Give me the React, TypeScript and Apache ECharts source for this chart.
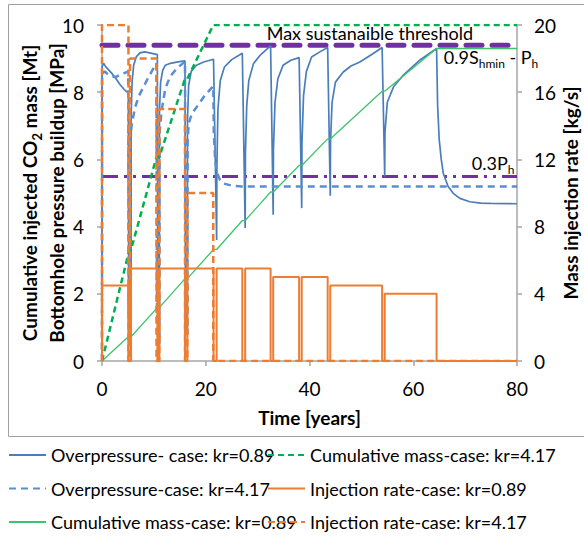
import React, { useEffect, useRef } from "react";
import * as echarts from "echarts";

const FONT = "Lato, sans-serif";

// Time axis (years) and value axes
const timeRange = [0, 80];
const xTickStep = 20;
const leftRange = [0, 10];
const leftTickStep = 2;
const rightRange = [0, 20];
const rightTickStep = 4;

// Reference thresholds (MPa)
const maxSustainableThreshold = 9.4;
const lowThreshold03Ph = 5.49;

// Overpressure, kr=0.89 [time, MPa]
const overpressureKr089: [number, number][] = [
  [0, 0], [0.02, 8.75], [0.3, 8.86], [0.7, 8.76], [1.2, 8.68], [1.9, 8.56], [2.8, 8.38], [3.5, 8.22], [4.3, 8.08], [5.07, 7.97],
  [5.15, 1.5], [5.6, 0.3],
  [5.63, 7.4], [5.8, 8.3], [6.1, 8.8], [6.6, 9.05], [7.3, 9.17], [8.2, 9.2], [9.2, 9.17], [10.67, 9.12],
  [10.75, 1.5], [11.05, 0.5],
  [11.08, 7.47], [11.3, 8.3], [11.7, 8.65], [12.2, 8.8], [13.2, 8.86], [14.6, 8.9], [16, 8.93],
  [16.08, 2], [16.45, 0.8],
  [16.48, 7.17], [16.7, 8.2], [17.2, 8.62], [18.2, 8.8], [19.6, 8.9], [21.5, 8.98],
  [22.1, 3.6],
  [22.15, 5.8], [22.35, 7.5], [22.8, 8.35], [23.6, 8.75], [25, 8.97], [27.05, 9.16],
  [27.6, 3.96],
  [27.65, 6.2], [27.9, 7.6], [28.3, 8.35], [29.2, 8.85], [30.6, 9.12], [32.5, 9.38],
  [33, 4.35],
  [33.05, 6.3], [33.35, 7.7], [33.9, 8.4], [34.9, 8.8], [36.4, 8.95], [38, 9.03],
  [38.5, 4.55],
  [38.55, 6.5], [38.85, 7.9], [39.4, 8.62], [40.4, 9.05], [42, 9.2], [43.5, 9.33],
  [44, 4.92],
  [44.05, 6.5], [44.35, 7.7], [45, 8.3], [46.5, 8.6], [48, 8.78], [49.7, 8.9], [52, 9.12], [54, 9.33],
  [54.5, 5.49],
  [54.55, 6.8], [55, 7.7], [56.2, 8.16], [58.1, 8.51], [61.3, 8.96], [64.5, 9.3],
  [64.7, 7.6], [65, 6.6], [65.4, 6.0], [65.8, 5.58], [66.7, 5.2], [67.7, 4.99], [69, 4.84], [70.9, 4.74], [73, 4.7], [75, 4.69], [80, 4.68],
];

// Overpressure, kr=4.17 [time, MPa]
const overpressureKr417: [number, number][] = [
  [0, 0], [0.02, 8.55], [0.5, 8.62], [1, 8.55], [1.8, 8.48], [2.6, 8.45], [3.3, 8.5], [4.2, 8.56], [5.05, 8.62],
  [5.15, 1.5], [5.4, 0.5],
  [5.45, 6.6], [5.7, 7.0], [6.3, 7.5], [7, 7.85], [7.8, 8.1], [8.8, 8.4], [9.7, 8.65], [10.5, 8.86],
  [10.6, 1.5], [11.05, 0.5],
  [11.1, 6.8], [11.5, 7.47], [12.2, 8.1], [13.1, 8.46], [14.5, 8.72], [16, 8.91],
  [16.1, 1.8], [16.45, 0.8],
  [16.5, 6.5], [16.7, 7.07], [17.3, 7.35], [18.3, 7.57], [19.8, 7.9], [21.45, 8.18],
  [21.55, 6.8], [21.8, 6.0], [22.2, 5.6], [22.7, 5.4], [23.5, 5.28], [25, 5.22], [27, 5.19], [80, 5.19],
];

// Cumulative injected mass [time, Mt]
const cumulativeKr089: [number, number][] = [
  [0, 0], [5.07, 0.72], [5.6, 0.72], [10.67, 1.59], [11.05, 1.59], [16, 2.45], [16.45, 2.45], [21.5, 3.32],
  [22.1, 3.32], [27.05, 4.18], [27.6, 4.18], [32.5, 5.03], [33, 5.03], [38, 5.82], [38.5, 5.82], [43.5, 6.61],
  [44, 6.61], [54, 8.03], [54.5, 8.03], [64.5, 9.3], [80, 9.3],
];
const cumulativeKr417: [number, number][] = [
  [0, 0], [5.1, 3.2], [5.4, 3.2], [10.5, 6.07], [11.05, 6.07], [16, 8.4], [16.45, 8.4], [21.45, 10], [80, 10],
];

// Injection rate [time, kg/s]
const injectionKr089: [number, number][] = [
  [0, 0], [0, 4.5], [5.07, 4.5], [5.07, 0], [5.6, 0], [5.6, 5.5], [10.67, 5.5], [10.67, 0], [11.05, 0], [11.05, 5.5],
  [16, 5.5], [16, 0], [16.45, 0], [16.45, 5.5], [21.5, 5.5], [21.5, 0], [22.1, 0], [22.1, 5.5], [27.05, 5.5],
  [27.05, 0], [27.6, 0], [27.6, 5.5], [32.5, 5.5], [32.5, 0], [33, 0], [33, 5], [38, 5], [38, 0], [38.5, 0],
  [38.5, 5], [43.5, 5], [43.5, 0], [44, 0], [44, 4.5], [54, 4.5], [54, 0], [54.5, 0], [54.5, 4], [64.5, 4],
  [64.5, 0], [80, 0],
];
const injectionKr417: [number, number][] = [
  [0, 0], [0, 20], [5.1, 20], [5.1, 0], [5.4, 0], [5.4, 18], [10.5, 18], [10.5, 0], [11.05, 0], [11.05, 15],
  [16, 15], [16, 0], [16.45, 0], [16.45, 10], [21.45, 10], [21.45, 0], [80, 0],
];

const seriesNames = [
  "Overpressure- case: kr=0.89",
  "Overpressure-case: kr=4.17",
  "Cumulative mass-case: kr=0.89",
  "Cumulative mass-case: kr=4.17",
  "Injection rate-case: kr=0.89",
  "Injection rate-case: kr=4.17",
];

const annotRich = {
  m: { fontSize: 18, fontFamily: FONT, color: "#000", lineHeight: 21, verticalAlign: "top" as const },
  sub: { fontSize: 12, fontFamily: FONT, color: "#000", lineHeight: 12, verticalAlign: "bottom" as const, padding: [12, 0, 0, 0] },
};

export default function App() {
  const ref = useRef<HTMLDivElement>(null);
  useEffect(() => {
    if (!ref.current) return;
    const chart = echarts.init(ref.current, undefined, { renderer: "svg" });
    const axisLineStyle = { color: "#A6A6A6", width: 1.5 };
    const labelStyle = { fontSize: 19, fontFamily: FONT, color: "#000" };
    const nameStyle = { fontSize: 19, fontFamily: FONT, fontWeight: "bold" as const, color: "#000" };
    const legendBase = {
      top: 445, orient: "vertical", itemGap: 13.5, itemWidth: 37, itemHeight: 14, padding: 0,
      itemStyle: { opacity: 0 },
      textStyle: { fontSize: 18, fontFamily: FONT, color: "#000", lineHeight: 20 },
    };
    const option: any = {
      animation: false,
      backgroundColor: "#fff",
      graphic: [
        {
          type: "rect",
          z: -10,
          shape: { x: 8.5, y: 4.5, width: 600, height: 432 },
          style: { fill: "none", stroke: "#A0A0A0", lineWidth: 1 },
        },
      ],
      grid: { left: 102, right: 67, top: 25, bottom: 176, outerBoundsMode: "none" },
      legend: [
        { ...legendBase, left: 8, data: [seriesNames[0], seriesNames[1], seriesNames[2]] },
        { ...legendBase, left: 267, data: [seriesNames[3], seriesNames[4], seriesNames[5]] },
      ],
      xAxis: {
        type: "value", min: timeRange[0], max: timeRange[1], interval: xTickStep,
        axisLine: { show: true, lineStyle: axisLineStyle },
        axisTick: { show: true, length: 5, lineStyle: axisLineStyle },
        splitLine: { show: false },
        axisLabel: { ...labelStyle, margin: 18 },
        name: "Time [years]", nameLocation: "middle", nameGap: 47, nameMoveOverlap: false, nameTextStyle: nameStyle,
      },
      yAxis: [
        {
          type: "value", position: "left", min: leftRange[0], max: leftRange[1], interval: leftTickStep,
          axisLine: { show: true, lineStyle: axisLineStyle },
          axisTick: { show: true, length: 5, lineStyle: axisLineStyle },
          splitLine: { show: false },
          axisLabel: { ...labelStyle, margin: 18 },
          name: "Cumulative injected CO{sub|2} mass [Mt]\nBottomhole pressure buildup [MPa]",
          nameLocation: "middle", nameRotate: 90, nameGap: 32, nameMoveOverlap: false,
          nameTextStyle: {
            ...nameStyle, lineHeight: 27,
            rich: { sub: { fontSize: 13, fontFamily: FONT, fontWeight: "bold", color: "#000", lineHeight: 13, verticalAlign: "bottom", padding: [9, 0, 0, 0] } },
          },
        },
        {
          type: "value", position: "right", min: rightRange[0], max: rightRange[1], interval: rightTickStep,
          axisLine: { show: true, lineStyle: axisLineStyle },
          axisTick: { show: true, length: 5, lineStyle: axisLineStyle },
          splitLine: { show: false },
          axisLabel: { ...labelStyle, margin: 17 },
          name: "Mass injection rate [kg/s]",
          nameLocation: "middle", nameRotate: 90, nameGap: 40, nameMoveOverlap: false,
          nameTextStyle: { ...nameStyle, lineHeight: 27 },
        },
      ],
      series: [
        {
          type: "line", name: "maxThreshold", yAxisIndex: 0, symbol: "none", silent: true,
          data: [[timeRange[0], maxSustainableThreshold], [timeRange[1], maxSustainableThreshold]],
          lineStyle: { color: "#7030A0", width: 5, type: [16, 10], cap: "round" },
          markPoint: {
            symbol: "circle", symbolSize: 0,
            data: [
              {
                coord: [31.75, 9.75],
                label: { show: true, position: "right", distance: 0, formatter: "Max sustanaible threshold", fontSize: 18, fontFamily: FONT, color: "#000" },
              },
              {
                coord: [65.9, 9.0],
                label: { show: true, position: "right", distance: 0, formatter: "{m|0.9S}{sub|hmin}{m| - P}{sub|h}", rich: annotRich },
              },
              {
                coord: [71.3, 5.84],
                label: { show: true, position: "right", distance: 0, formatter: "{m|0.3P}{sub|h}", rich: annotRich },
              },
            ],
          },
        },
        {
          type: "line", name: "lowThreshold", yAxisIndex: 0, symbol: "none", silent: true,
          data: [[timeRange[0], lowThreshold03Ph], [timeRange[1], lowThreshold03Ph]],
          lineStyle: { color: "#7030A0", width: 3, type: [16, 6, 3, 6, 3, 6] },
        },
        {
          type: "line", name: seriesNames[0], yAxisIndex: 0, symbol: "none", data: overpressureKr089,
          lineStyle: { color: "#4A7EBB", width: 1.7 }, itemStyle: { color: "#4A7EBB" },
        },
        {
          type: "line", name: seriesNames[1], yAxisIndex: 0, symbol: "none", data: overpressureKr417,
          lineStyle: { color: "#5B8ED0", width: 2.5, type: [7, 5] }, itemStyle: { color: "#5B8ED0" },
        },
        {
          type: "line", name: seriesNames[2], yAxisIndex: 0, symbol: "none", data: cumulativeKr089,
          lineStyle: { color: "#3CC46A", width: 1.3 }, itemStyle: { color: "#3CC46A" },
        },
        {
          type: "line", name: seriesNames[3], yAxisIndex: 0, symbol: "none", data: cumulativeKr417,
          lineStyle: { color: "#00B050", width: 2.5, type: [6, 4] }, itemStyle: { color: "#00B050" },
        },
        {
          type: "line", name: seriesNames[4], yAxisIndex: 1, symbol: "none", data: injectionKr089,
          lineStyle: { color: "#ED7D31", width: 2 }, itemStyle: { color: "#ED7D31" },
        },
        {
          type: "line", name: seriesNames[5], yAxisIndex: 1, symbol: "none", data: injectionKr417,
          lineStyle: { color: "#ED7D31", width: 2.5, type: [7, 4] }, itemStyle: { color: "#ED7D31" },
        },
      ],
    };
    chart.setOption(option);
    return () => chart.dispose();
  }, []);
  return <div ref={ref} style={{ position: "absolute", left: 0, top: 0, width: 584, height: 537 }} />;
}
